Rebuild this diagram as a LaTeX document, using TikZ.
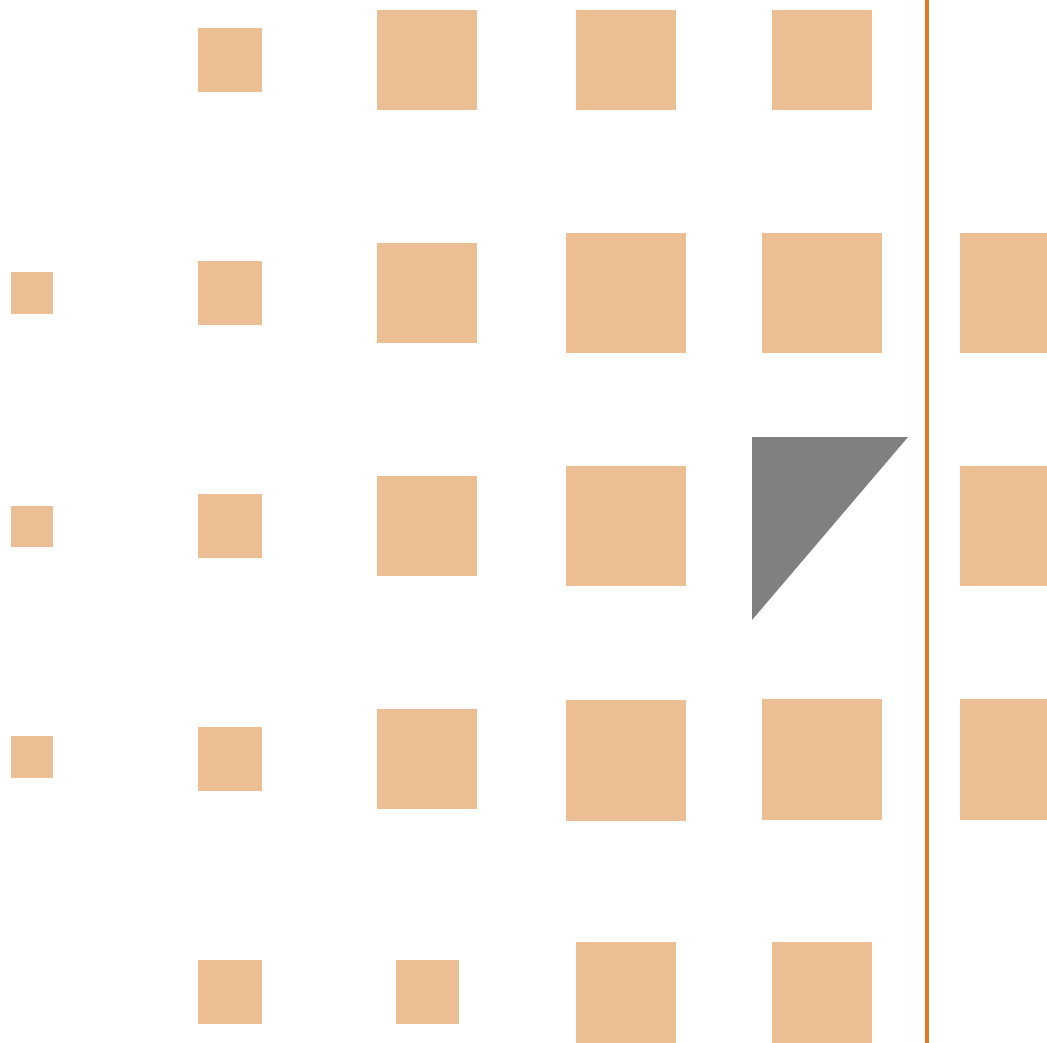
\documentclass[tikz,border=0pt]{standalone}
\usepackage{tikz}
\definecolor{sqcol}{RGB}{235,190,148}
\definecolor{linecol}{RGB}{224,126,40}
\definecolor{tricol}{RGB}{128,128,128}
\begin{document}
\begin{tikzpicture}[x=1pt,y=-1pt,
  sq/.style={fill=sqcol},
  vline/.style={draw=linecol,line width=3.5pt},
  tri/.style={fill=tricol}]
\useasboundingbox[fill=white] (0,0) rectangle (1047,1043);
% row 1
\fill[sq] (198,28) rectangle (262,92);
\fill[sq] (377,10) rectangle (477,110);
\fill[sq] (576,10) rectangle (676,110);
\fill[sq] (772,10) rectangle (872,110);
% row 2
\fill[sq] (11,272) rectangle (53,314);
\fill[sq] (198,261) rectangle (262,325);
\fill[sq] (377,243) rectangle (477,343);
\fill[sq] (566,233) rectangle (686,353);
\fill[sq] (762,233) rectangle (882,353);
\fill[sq] (960,233) rectangle (1047,353);
% row 3
\fill[sq] (11,506) rectangle (53,547);
\fill[sq] (198,494) rectangle (262,558);
\fill[sq] (377,476) rectangle (477,576);
\fill[sq] (566,466) rectangle (686,586);
\fill[tri] (752,437) -- (908,437) -- (752,620) -- cycle;
\fill[sq] (960,466) rectangle (1047,586);
% row 4
\fill[sq] (11,736) rectangle (53,778);
\fill[sq] (198,727) rectangle (262,791);
\fill[sq] (377,709) rectangle (477,809);
\fill[sq] (566,700) rectangle (686,821);
\fill[sq] (762,699) rectangle (882,820);
\fill[sq] (960,699) rectangle (1047,820);
% row 5
\fill[sq] (198,960) rectangle (262,1024);
\fill[sq] (396,960) rectangle (459,1024);
\fill[sq] (576,942) rectangle (676,1043);
\fill[sq] (772,942) rectangle (872,1043);
% vertical line
\draw[vline] (927,0) -- (927,1043);
\end{tikzpicture}
\end{document}
